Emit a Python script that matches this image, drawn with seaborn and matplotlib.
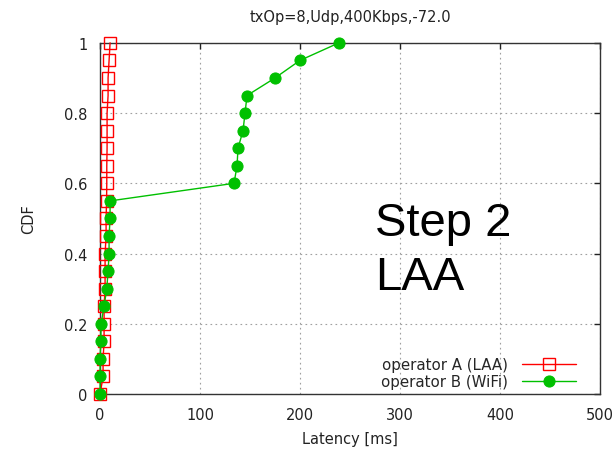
import pandas as pd
import seaborn as sns
import matplotlib.pyplot as plt

# CDF levels shared by both series
cdf = [0.0, 0.05, 0.1, 0.15, 0.2, 0.25, 0.3, 0.35, 0.4, 0.45, 0.5,
       0.55, 0.6, 0.65, 0.7, 0.75, 0.8, 0.85, 0.9, 0.95, 1.0]

# latency values (ms)
laa_latency = [0, 3, 3, 4, 4, 4, 5, 5, 5, 6, 6,
               6.5, 6.7, 6.7, 7, 7, 7, 8, 8, 9, 10]
wifi_latency = [0, 0, 0, 0.7, 1, 4, 6.7, 8, 9, 9, 10,
                10, 134, 137, 138, 143, 145, 147, 175, 200, 239]

labels = ['operator A (LAA)', 'operator B (WiFi)']

df = pd.concat([
    pd.DataFrame({'latency': laa_latency, 'cdf': cdf, 'op': labels[0]}),
    pd.DataFrame({'latency': wifi_latency, 'cdf': cdf, 'op': labels[1]}),
])

sns.set_style('white')
plt.rcParams['font.family'] = ['DejaVu Sans']

fig = plt.figure(figsize=(6.14, 4.52), dpi=100)
ax = fig.add_axes([0.163, 0.126, 0.814, 0.777])

sns.lineplot(data=df[df.op == labels[0]], x='latency', y='cdf', sort=False,
             estimator=None, color='red', marker='s', markersize=8,
             markerfacecolor='none', markeredgecolor='red', markeredgewidth=1,
             linewidth=1, label=labels[0], ax=ax, clip_on=False, zorder=3)
sns.lineplot(data=df[df.op == labels[1]], x='latency', y='cdf', sort=False,
             estimator=None, color='#00c000', marker='o', markersize=8,
             markeredgecolor='#00c000', linewidth=1, label=labels[1], ax=ax,
             clip_on=False, zorder=4)

ax.set_xlim(0, 500)
ax.set_ylim(0, 1)
ax.set_xticks([0, 100, 200, 300, 400, 500])
ax.set_yticks([0, 0.2, 0.4, 0.6, 0.8, 1.0])
ax.set_yticklabels(['0', '0.2', '0.4', '0.6', '0.8', '1'])
ax.grid(True, color='#a0a0a0', linestyle=(0, (1.5, 3)), linewidth=0.8)
ax.tick_params(direction='in', top=True, right=True, length=4, width=1,
               labelsize=10.5, colors='#222222', pad=9)
for s in ax.spines.values():
    s.set_color('#333333')
    s.set_linewidth(1)

ax.set_xlabel('Latency [ms]', fontsize=10.5, labelpad=7, color='#222222')
ax.set_ylabel('CDF', fontsize=10.5, labelpad=20, color='#222222')
ax.set_title('txOp=8,Udp,400Kbps,-72.0', fontsize=10.5, pad=16, color='#222222')

ax.text(275, 0.41, 'Step 2\nLAA', fontsize=34, family='Liberation Sans',
        va='center', ha='left', linespacing=1.3, color='black')

ax.legend(loc='lower right', bbox_to_anchor=(0.958, 0.005), frameon=False,
          markerfirst=False, fontsize=10.8, handlelength=3.6, handletextpad=0.9,
          labelspacing=0.15, borderaxespad=0, borderpad=0.2)

fig.savefig('out.png', dpi=100)
